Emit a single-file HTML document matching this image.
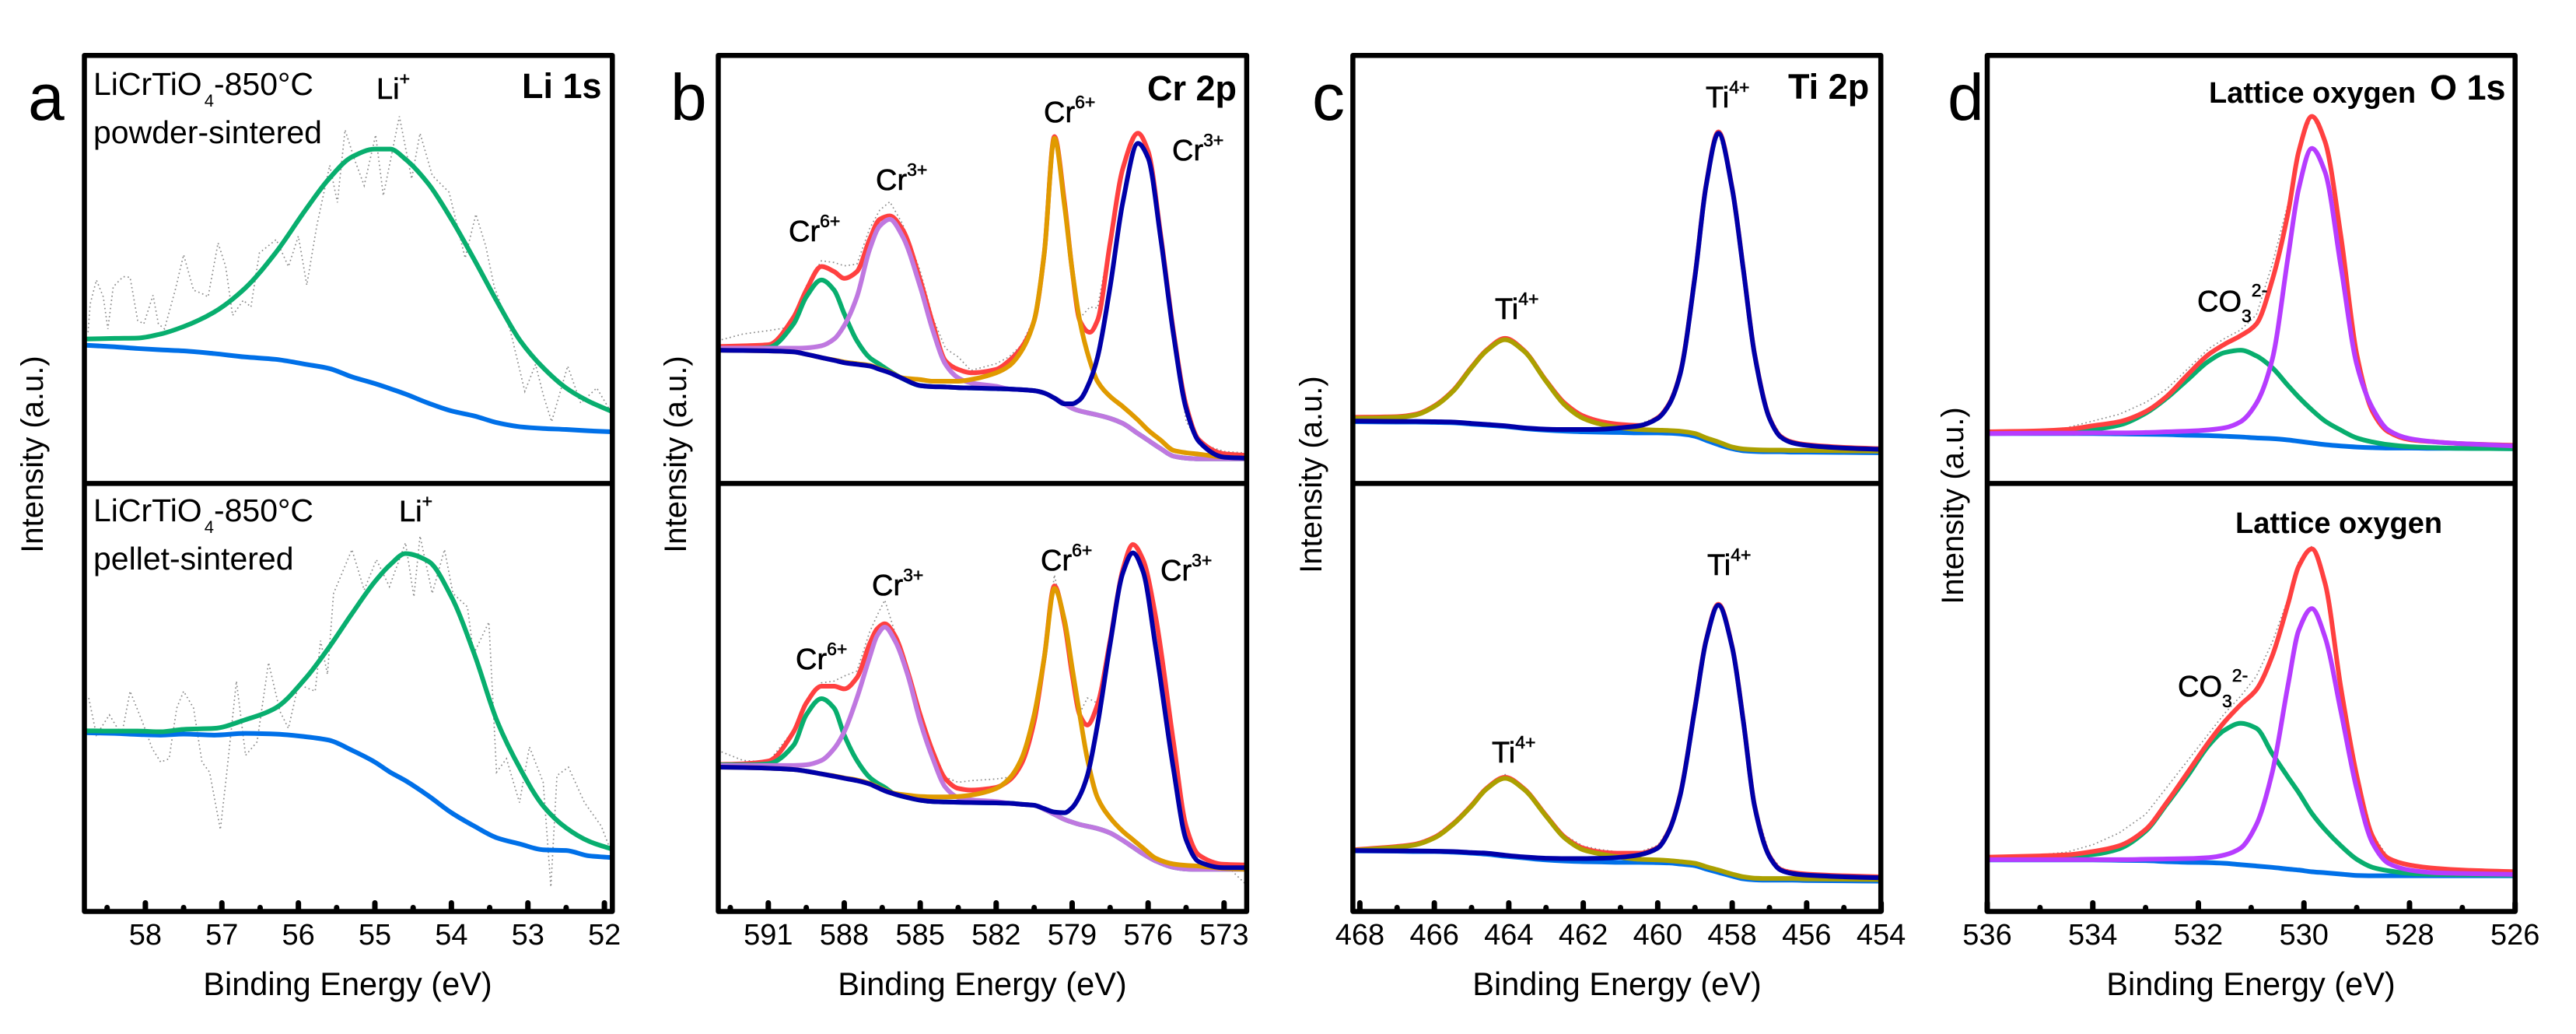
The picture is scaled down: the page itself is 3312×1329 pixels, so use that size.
<!DOCTYPE html>
<html lang="en">
<head>
<meta charset="utf-8">
<title>XPS spectra of LiCrTiO4</title>
<style>
html,body{margin:0;padding:0;background:#fff;}
svg{display:block;}
text{font-family:"Liberation Sans",sans-serif;fill:#000;}
.tick{font-size:38px;text-anchor:middle;}
.xtitle{font-size:41.5px;text-anchor:middle;}
.ytitle{font-size:40px;text-anchor:middle;}
.letter{font-size:84px;}
.note{font-size:41px;}
.ion{font-size:38px;stroke:#000;stroke-width:.6px;}
.sup{font-size:23px;}
.sub{font-size:22px;stroke:none;}
.core{font-size:45px;font-weight:bold;}
.lat{font-size:38px;font-weight:bold;}
</style>
</head>
<body>
<svg id="chart" xmlns="http://www.w3.org/2000/svg" width="3312" height="1329" viewBox="0 0 3312 1329">
<rect width="3312" height="1329" fill="#fff"/>
<g id="marks"></g>
<g id="axes"></g>

<g fill="none" stroke="#000" stroke-width="6.5" stroke-linejoin="round">
<rect x="108.5" y="71.2" width="678.8" height="1100.3"/>
<line x1="108.5" x2="787.3" y1="621.4" y2="621.4"/>
<rect x="923.5" y="71.2" width="679.4" height="1100.3"/>
<line x1="923.5" x2="1602.9" y1="621.4" y2="621.4"/>
<rect x="1739.4" y="71.2" width="678.8" height="1100.3"/>
<line x1="1739.4" x2="2418.2" y1="621.4" y2="621.4"/>
<rect x="2555" y="71.2" width="678.7" height="1100.3"/>
<line x1="2555" x2="3233.7" y1="621.4" y2="621.4"/>
</g>

<text class="letter" x="36" y="154">a</text>
<text class="letter" x="862" y="154">b</text>
<text class="letter" x="1687" y="154">c</text>
<text class="letter" x="2504" y="154">d</text>

<text class="ytitle" transform="translate(55 584) rotate(-90)">Intensity (a.u.)</text>
<text class="ytitle" transform="translate(882 584) rotate(-90)">Intensity (a.u.)</text>
<text class="ytitle" transform="translate(1699 610) rotate(-90)">Intensity (a.u.)</text>
<text class="ytitle" transform="translate(2524 650) rotate(-90)">Intensity (a.u.)</text>

<text class="xtitle" x="447" y="1279">Binding Energy (eV)</text>
<text class="xtitle" x="1263" y="1279">Binding Energy (eV)</text>
<text class="xtitle" x="2079" y="1279">Binding Energy (eV)</text>
<text class="xtitle" x="2894" y="1279">Binding Energy (eV)</text>

<text class="core" x="671" y="126">Li 1s</text>
<text class="core" x="1475" y="129">Cr 2p</text>
<text class="core" x="2299" y="127">Ti 2p</text>
<text class="core" x="3124" y="128">O 1s</text>

<text class="note" x="120" y="122">LiCrTiO<tspan class="sub" dx="3" dy="15">4</tspan><tspan dy="-15">-850°C</tspan></text>
<text class="note" x="120" y="184">powder-sintered</text>
<text class="note" x="120" y="670">LiCrTiO<tspan class="sub" dx="3" dy="15">4</tspan><tspan dy="-15">-850°C</tspan></text>
<text class="note" x="120" y="732">pellet-sintered</text>

<text class="ion" x="484" y="127">Li<tspan class="sup" dy="-18">+</tspan></text>
<text class="ion" x="513" y="670">Li<tspan class="sup" dy="-18">+</tspan></text>

<text class="ion" x="1014" y="310">Cr<tspan class="sup" dy="-18">6+</tspan></text>
<text class="ion" x="1126" y="244">Cr<tspan class="sup" dy="-18">3+</tspan></text>
<text class="ion" x="1342" y="157">Cr<tspan class="sup" dy="-18">6+</tspan></text>
<text class="ion" x="1507" y="206">Cr<tspan class="sup" dy="-18">3+</tspan></text>
<text class="ion" x="1023" y="860">Cr<tspan class="sup" dy="-18">6+</tspan></text>
<text class="ion" x="1121" y="765">Cr<tspan class="sup" dy="-18">3+</tspan></text>
<text class="ion" x="1338" y="733">Cr<tspan class="sup" dy="-18">6+</tspan></text>
<text class="ion" x="1492" y="746">Cr<tspan class="sup" dy="-18">3+</tspan></text>

<text class="ion" x="2193" y="138">Ti<tspan class="sup" dy="-18">4+</tspan></text>
<text class="ion" x="1922" y="410">Ti<tspan class="sup" dy="-18">4+</tspan></text>
<text class="ion" x="2195" y="739">Ti<tspan class="sup" dy="-18">4+</tspan></text>
<text class="ion" x="1918" y="980">Ti<tspan class="sup" dy="-18">4+</tspan></text>

<text class="ion" x="2825" y="400">CO<tspan class="sup" dy="14">3</tspan><tspan class="sup" dy="-33">2-</tspan></text>
<text class="ion" x="2800" y="895">CO<tspan class="sup" dy="14">3</tspan><tspan class="sup" dy="-33">2-</tspan></text>
<text class="lat" x="2840" y="132">Lattice oxygen</text>
<text class="lat" x="2874" y="685">Lattice oxygen</text>
</svg>

<script>
/* Panel a: Li 1s */
const aTicks = [58, 57, 56, 55, 54, 53, 52];
const aMinor = [58.5, 57.5, 56.5, 55.5, 54.5, 53.5, 52.5];
const aBE = [58.8,58.4,58.1,57.8,57.5,57.1,56.7,56.3,55.9,55.6,55.3,55.0,54.8,54.6,54.3,54.0,53.7,53.4,53.1,52.8,52.5,52.2,51.9];
const aTopFit = [428,430,431,443,465,508,578,683,813,903,968,991,991,961,888,783,663,538,423,343,283,243,213];
const aTopBack = [410,405,400,396,393,385,375,368,353,341,316,296,281,265,238,215,200,180,168,163,160,156,153];
const aBotFit = [538,537,537,535,542,545,570,605,695,785,885,980,1030,1063,1040,935,765,565,425,315,250,210,187];
const aBotBack = [532,530,527,525,528,525,530,528,520,510,480,445,415,390,345,295,255,220,202,185,183,167,162];
const aTopRawBE = [58.75,58.72,58.64,58.55,58.49,58.42,58.29,58.20,58.10,58.02,57.90,57.83,57.75,57.61,57.50,57.37,57.26,57.18,57.05,56.95,56.86,56.72,56.62,56.51,56.29,56.13,56.00,55.89,55.76,55.59,55.49,55.39,55.27,55.14,54.99,54.89,54.68,54.52,54.41,54.25,54.03,53.82,53.68,53.55,53.44,53.23,53.04,52.90,52.80,52.69,52.48,52.31,52.10,51.93];
const aTopRaw = [448,533,603,553,458,583,613,611,483,473,558,473,458,573,678,573,563,553,713,643,498,543,523,683,723,643,733,588,763,943,833,1048,963,883,1033,853,1088,903,1038,913,863,668,798,703,583,453,273,353,263,183,348,238,283,218];
const aBotRawBE = [58.74,58.64,58.47,58.31,58.20,58.04,57.91,57.80,57.69,57.59,57.50,57.37,57.26,57.16,57.02,56.94,56.81,56.69,56.54,56.39,56.24,56.13,56.00,55.78,55.71,55.62,55.54,55.30,55.14,54.98,54.81,54.60,54.49,54.41,54.25,54.09,53.98,53.79,53.71,53.51,53.41,53.28,53.11,52.98,52.80,52.70,52.62,52.47,52.26,52.04,51.93];
const aBotRaw = [635,525,585,525,655,565,485,445,455,605,655,605,445,415,245,405,685,465,505,740,595,545,675,655,805,705,945,1075,955,1045,965,1095,935,1115,945,1075,945,905,765,860,415,455,325,490,385,75,405,430,325,255,190];

/* Panel b: Cr 2p */
const bTicks = [591, 588, 585, 582, 579, 576, 573];
const bMinor = [592.5, 589.5, 586.5, 583.5, 580.5, 577.5, 574.5];
const bTopBE = [593,592,591,590,589.5,588.9,588.4,588,587.5,587,586.6,586.2,585.7,585,584.5,584,583.5,583,582,581.5,581,580.5,580.1,579.7,579.3,579,578.7,578.3,578,577.5,577,576.4,576,575.5,575,574.5,574,573,572.1];
const bTopRaw = [423,443,453,465,585,660,655,645,650,755,810,835,770,630,490,400,375,335,355,375,410,490,690,1035,840,640,490,523,520,720,935,1045,985,760,455,185,120,95,90];
const bTopEnvelope = [406,408,411,493,573,643,628,608,628,723,783,793,753,603,473,363,338,328,338,363,403,483,683,1028,833,633,483,448,483,713,933,1038,985,735,452,232,130,88,83];
const bTopCr6a = [400,400,403,473,553,603,573,503,423,373,353,333,311,290,287,286,284,283,281,280,278,275,268,253,236,223,215,208,203,193,178,148,128,103,81,75,73,73,73];
const bTopCr3a = [401,401,401,401,402,408,428,468,553,693,763,783,733,583,453,353,313,298,288,280,278,275,268,253,236,223,215,208,203,193,178,148,128,103,81,75,73,73,73];
const bTopCr6b = [395,394,393,390,383,373,366,360,355,350,340,330,313,308,303,303,303,308,328,348,393,483,683,1023,823,633,483,363,303,258,228,188,158,128,98,91,87,78,75];
const bTopCr3b = [395,394,393,390,383,373,365,358,353,348,338,328,311,290,287,286,284,283,281,280,278,275,268,253,236,236,248,303,373,583,833,1008,965,725,443,222,125,78,75];
const bBotBE = [593,592,591,590,589.5,588.9,588.4,588,587.5,587,586.7,586.4,586,585.5,585,584.5,584,583.5,583,582,581.5,581,580.5,580.1,579.7,579.3,579,578.7,578.4,578,577.5,577,576.6,576.2,575.7,575,574.5,574,573,572.1];
const bBotRaw = [480,450,445,540,625,680,685,700,715,830,880,925,830,720,600,480,400,385,390,395,400,450,570,760,1000,860,710,590,635,620,810,1020,1095,1050,880,510,240,150,145,80];
const bBotEnvelope = [438,440,448,535,620,670,670,662,695,795,840,855,820,715,585,475,395,367,362,370,390,440,565,755,967,855,705,585,555,615,805,1015,1090,1045,875,505,255,170,142,140];
const bBotCr6a = [437,437,440,495,585,633,605,525,450,400,383,370,350,340,332,328,327,326,325,324,323,320,317,305,290,275,267,260,255,248,235,213,193,173,152,133,128,127,127,127];
const bBotCr3a = [435,435,435,435,437,450,485,535,635,755,820,845,805,705,565,455,370,340,333,328,323,320,317,305,290,275,267,260,255,248,235,213,193,173,152,133,128,127,127,127];
const bBotCr6b = [430,429,427,423,418,410,404,398,392,382,372,362,352,347,343,342,342,343,347,367,395,455,585,755,960,865,725,585,455,340,280,240,215,190,160,143,139,137,130,127];
const bBotCr3b = [430,429,427,423,418,410,403,397,390,380,370,360,350,340,332,328,327,326,325,324,323,320,317,307,297,295,310,345,405,555,795,1005,1065,1010,785,425,215,150,132,132];

/* Panel c: Ti 2p */
const cTicks = [468, 466, 464, 462, 460, 458, 456, 454];
const cMinor = [467, 465, 463, 461, 459, 457, 455];
const cBE = [468.2,467,466.5,466,465.5,465,464.6,464.1,463.6,463,462.5,462,461.5,461,460.5,460,459.7,459.4,459,458.7,458.37,458,457.7,457.4,457,456.7,456.4,456,455,454];
const cTopRaw = [196,200,207,232,278,348,398,435,398,308,236,198,186,178,175,198,240,330,618,888,1045,878,640,390,200,145,125,117,108,104];
const cTopEnvelope = [196,198,205,230,275,345,395,430,395,305,238,200,183,175,172,195,235,325,615,885,1042,875,635,385,195,140,123,115,107,103];
const cTopBack = [183,182,182,181,180,176,173,169,163,158,155,153,152,151,150,150,149,147,140,128,115,103,97,95,94,94,93,93,92,91];
const cTopTi12 = [193,196,203,228,273,343,393,426,393,303,233,193,175,165,160,158,157,155,148,135,123,108,102,100,99,99,98,98,97,96];
const cTopTi32 = [185,184,184,183,182,178,175,171,165,161,160,160,161,165,171,193,233,323,613,883,1038,873,633,383,193,138,121,113,105,101];
const cBotRaw = [186,197,205,226,266,322,372,408,372,292,228,196,185,178,178,198,248,352,612,812,918,792,572,322,172,132,122,116,110,106];
const cBotEnvelope = [185,195,202,222,262,317,367,400,367,287,223,190,178,175,175,192,242,347,607,807,913,787,567,317,167,127,118,113,108,105];
const cBotBack = [182,181,180,180,178,175,172,166,161,155,152,150,149,148,148,147,146,143,138,128,118,107,99,96,95,95,95,94,93,92];
const cBotTi12 = [183,193,200,220,260,315,365,397,365,285,220,185,172,163,157,155,153,150,145,135,125,113,105,101,100,100,100,99,98,97];
const cBotTi32 = [183,182,182,181,180,177,175,169,164,160,159,159,160,163,170,190,240,345,605,805,910,785,565,315,165,125,115,110,105,102];

/* Panel d: O 1s */
const dTicks = [536, 534, 532, 530, 528, 526];
const dMinor = [535, 533, 531, 529, 527];
const dBE = [536,535,534.5,534,533.5,533,532.6,532.2,531.8,531.5,531.2,530.9,530.6,530.3,530.1,529.85,529.6,529.3,529,528.7,528.4,528,527.5,527,526];
const dTopRaw = [156,158,165,185,205,240,280,340,400,430,455,500,650,830,990,1090,1015,735,385,215,155,132,125,120,115];
const dTopEnvelope = [153,156,160,171,183,213,258,323,383,413,438,473,603,803,983,1088,1013,733,383,213,153,130,123,118,113];
const dTopBack = [148,148,148,148,147,146,145,143,142,140,138,135,133,129,125,120,115,111,108,106,105,105,104,104,103];
const dTopCarbonate = [151,152,154,160,173,208,253,308,363,388,395,378,343,290,256,218,185,158,135,123,115,109,106,104,103];
const dTopLattice = [148,149,149,150,150,151,153,155,159,165,183,238,368,673,873,993,923,643,353,223,158,133,123,118,111];
const dBotRaw = [165,170,178,200,235,290,370,450,530,590,640,700,800,930,1040,1085,980,670,410,230,162,142,132,127,122];
const dBotEnvelope = [163,167,170,180,197,245,325,415,505,565,615,660,760,915,1025,1077,975,665,405,225,160,140,130,125,120];
const dBotBack = [155,155,155,155,154,153,150,148,147,145,141,137,133,128,125,120,117,113,109,108,108,108,108,108,108];
const dBotCarbonate = [161,163,165,171,188,240,320,405,495,540,560,545,470,400,355,293,245,197,157,133,123,115,112,111,110];
const dBotLattice = [156,156,156,156,156,157,158,159,162,170,190,260,415,675,835,900,815,595,365,205,145,125,117,115,112];

const NS = 'http://www.w3.org/2000/svg';
const marks = document.getElementById('marks');
const axes = document.getElementById('axes');

/* x axis function: maps binding energy linearly using two reference ticks */
function makeX(be0, px0, be1, px1) {
  return function (be) { return px0 + (be - be0) * (px1 - px0) / (be1 - be0); };
}
const xA = makeX(58, 186.9, 52, 777.1);
const xB = makeX(591, 987.8, 573, 1573.8);
const xC = makeX(468, 1748.4, 454, 2418.6);
const xD = makeX(536, 2555, 526, 3233.7);

/* y axis functions: intensity in a.u. per sub-plot */
const Y_SCALE = 1 / 2.306;
function yTop(v) { return 621.4 - v * Y_SCALE; }
function yBot(v) { return 1172.5 - v * Y_SCALE; }

/* monotone cubic path through mapped points */
function smoothPath(px, py) {
  const n = px.length;
  const slopes = [];
  for (let i = 0; i < n - 1; i++) slopes.push((py[i + 1] - py[i]) / (px[i + 1] - px[i]));
  const tang = [slopes[0]];
  for (let i = 1; i < n - 1; i++) {
    if (slopes[i - 1] * slopes[i] <= 0) {
      tang.push(0);
    } else {
      const h0 = px[i] - px[i - 1];
      const h1 = px[i + 1] - px[i];
      const w0 = 2 * h1 + h0;
      const w1 = h1 + 2 * h0;
      tang.push((w0 + w1) / (w0 / slopes[i - 1] + w1 / slopes[i]));
    }
  }
  tang.push(slopes[n - 2]);
  let d = 'M' + px[0].toFixed(2) + ' ' + py[0].toFixed(2);
  for (let i = 0; i < n - 1; i++) {
    const h = (px[i + 1] - px[i]) / 3;
    d += 'C' + (px[i] + h).toFixed(2) + ' ' + (py[i] + tang[i] * h).toFixed(2) + ' ' +
         (px[i + 1] - h).toFixed(2) + ' ' + (py[i + 1] - tang[i + 1] * h).toFixed(2) + ' ' +
         px[i + 1].toFixed(2) + ' ' + py[i + 1].toFixed(2);
  }
  return d;
}

function drawFit(name, be, vals, xf, yf, color) {
  const path = document.createElementNS(NS, 'path');
  
  
  path.setAttribute('d', smoothPath(be.map(xf), vals.map(yf)));
  path.setAttribute('fill', 'none');
  path.setAttribute('stroke', color);
  path.setAttribute('stroke-width', '6');
  path.setAttribute('stroke-linejoin', 'round');
  marks.appendChild(path);
}

function drawRaw(name, be, vals, xf, yf) {
  const line = document.createElementNS(NS, 'polyline');
  
  
  line.setAttribute('points', be.map(function (b, i) { return xf(b).toFixed(2) + ',' + yf(vals[i]).toFixed(2); }).join(' '));
  line.setAttribute('fill', 'none');
  line.setAttribute('stroke', '#8c8c8c');
  line.setAttribute('stroke-width', '1.7');
  line.setAttribute('stroke-dasharray', '1.7 3.6');
  marks.appendChild(line);
}

function drawAxis(name, ticks, minor, xf) {
  ticks.forEach(function (t) {
    const tick = document.createElementNS(NS, 'line');
    
    
    tick.setAttribute('x1', xf(t));
    tick.setAttribute('x2', xf(t));
    tick.setAttribute('y1', 1171);
    tick.setAttribute('y2', 1160.5);
    tick.setAttribute('stroke', '#000');
    tick.setAttribute('stroke-width', '7');
    tick.setAttribute('stroke-linecap', 'round');
    axes.appendChild(tick);
    const label = document.createElementNS(NS, 'text');
    
    
    label.setAttribute('class', 'tick');
    label.setAttribute('x', xf(t));
    label.setAttribute('y', 1214);
    label.textContent = String(t);
    axes.appendChild(label);
  });
  minor.forEach(function (t) {
    const tick = document.createElementNS(NS, 'line');
    
    
    tick.setAttribute('x1', xf(t));
    tick.setAttribute('x2', xf(t));
    tick.setAttribute('y1', 1171);
    tick.setAttribute('y2', 1166.5);
    tick.setAttribute('stroke', '#000');
    tick.setAttribute('stroke-width', '7');
    tick.setAttribute('stroke-linecap', 'round');
    axes.appendChild(tick);
  });
}

const RED = '#ff4040', GREEN = '#08ae6e', BLUE = '#0070e8', LILAC = '#bf78e0',
      ORANGE = '#e09a00', NAVY = '#0000a8', OLIVE = '#aba000', VIOLET = '#b63cff';

/* panel a */
drawRaw('a-top-raw-data', aTopRawBE, aTopRaw, xA, yTop);
drawFit('a-top-background', aBE, aTopBack, xA, yTop, BLUE);
drawFit('a-top-li-fit', aBE, aTopFit, xA, yTop, GREEN);
drawRaw('a-bottom-raw-data', aBotRawBE, aBotRaw, xA, yBot);
drawFit('a-bottom-background', aBE, aBotBack, xA, yBot, BLUE);
drawFit('a-bottom-li-fit', aBE, aBotFit, xA, yBot, GREEN);

/* panel b */
drawRaw('b-top-raw-data', bTopBE, bTopRaw, xB, yTop);
drawFit('b-top-envelope', bTopBE, bTopEnvelope, xB, yTop, RED);
drawFit('b-top-cr6-peak-left', bTopBE, bTopCr6a, xB, yTop, GREEN);
drawFit('b-top-cr3-peak-left', bTopBE, bTopCr3a, xB, yTop, LILAC);
drawFit('b-top-cr6-peak-right', bTopBE, bTopCr6b, xB, yTop, ORANGE);
drawFit('b-top-cr3-peak-right', bTopBE, bTopCr3b, xB, yTop, NAVY);
drawRaw('b-bottom-raw-data', bBotBE, bBotRaw, xB, yBot);
drawFit('b-bottom-envelope', bBotBE, bBotEnvelope, xB, yBot, RED);
drawFit('b-bottom-cr6-peak-left', bBotBE, bBotCr6a, xB, yBot, GREEN);
drawFit('b-bottom-cr3-peak-left', bBotBE, bBotCr3a, xB, yBot, LILAC);
drawFit('b-bottom-cr6-peak-right', bBotBE, bBotCr6b, xB, yBot, ORANGE);
drawFit('b-bottom-cr3-peak-right', bBotBE, bBotCr3b, xB, yBot, NAVY);

/* panel c */
drawRaw('c-top-raw-data', cBE, cTopRaw, xC, yTop);
drawFit('c-top-envelope', cBE, cTopEnvelope, xC, yTop, RED);
drawFit('c-top-background', cBE, cTopBack, xC, yTop, BLUE);
drawFit('c-top-ti-peak-left', cBE, cTopTi12, xC, yTop, OLIVE);
drawFit('c-top-ti-peak-right', cBE, cTopTi32, xC, yTop, NAVY);
drawRaw('c-bottom-raw-data', cBE, cBotRaw, xC, yBot);
drawFit('c-bottom-envelope', cBE, cBotEnvelope, xC, yBot, RED);
drawFit('c-bottom-background', cBE, cBotBack, xC, yBot, BLUE);
drawFit('c-bottom-ti-peak-left', cBE, cBotTi12, xC, yBot, OLIVE);
drawFit('c-bottom-ti-peak-right', cBE, cBotTi32, xC, yBot, NAVY);

/* panel d */
drawRaw('d-top-raw-data', dBE, dTopRaw, xD, yTop);
drawFit('d-top-background', dBE, dTopBack, xD, yTop, BLUE);
drawFit('d-top-carbonate-peak', dBE, dTopCarbonate, xD, yTop, GREEN);
drawFit('d-top-envelope', dBE, dTopEnvelope, xD, yTop, RED);
drawFit('d-top-lattice-peak', dBE, dTopLattice, xD, yTop, VIOLET);
drawRaw('d-bottom-raw-data', dBE, dBotRaw, xD, yBot);
drawFit('d-bottom-background', dBE, dBotBack, xD, yBot, BLUE);
drawFit('d-bottom-carbonate-peak', dBE, dBotCarbonate, xD, yBot, GREEN);
drawFit('d-bottom-envelope', dBE, dBotEnvelope, xD, yBot, RED);
drawFit('d-bottom-lattice-peak', dBE, dBotLattice, xD, yBot, VIOLET);

drawAxis('panel-a-x-axis', aTicks, aMinor, xA);
drawAxis('panel-b-x-axis', bTicks, bMinor, xB);
drawAxis('panel-c-x-axis', cTicks, cMinor, xC);
drawAxis('panel-d-x-axis', dTicks, dMinor, xD);
</script>
</body>
</html>
